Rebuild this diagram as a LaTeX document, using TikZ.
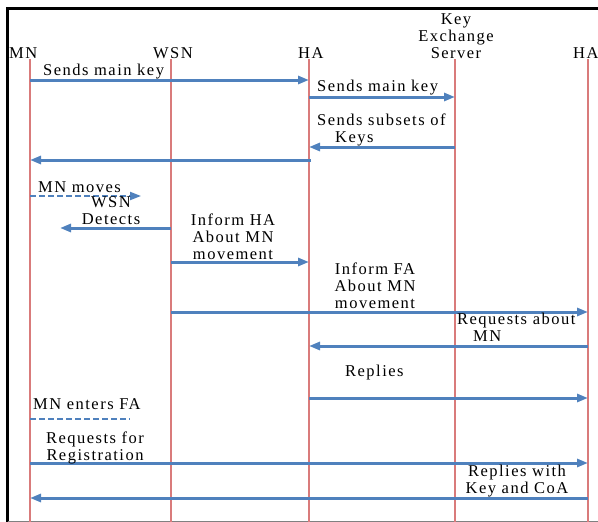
\documentclass[tikz,border=0pt]{standalone}
\usepackage{fontspec}
\setmainfont{Liberation Serif}[LetterSpace=9]
\usetikzlibrary{arrows.meta}
\definecolor{msgblue}{HTML}{4F81BD}
\definecolor{lifered}{HTML}{D97B7B}
\begin{document}
\begin{tikzpicture}[x=1pt,y=-1pt,
  lbl/.style={font=\fontsize{16.5}{17}\selectfont, inner sep=0pt, text=black},
  life/.style={draw=lifered, line width=2pt},
  msg/.style={draw=msgblue, line width=3pt, -{Triangle[length=11pt,width=8pt]}},
  moveline/.style={draw=msgblue, line width=2pt, dash pattern=on 6pt off 3pt},
]
\useasboundingbox (0,0) rectangle (598,522);

% frame
\draw[line width=3pt] (7.5,522) -- (7.5,8.5) -- (600,8.5);
\draw[gray, line width=1pt] (7.5,521) -- (600,521);

% participants (multi-line labels sit on the baseline of their last line)
\node[lbl, anchor=base west] (mnH)  at (9,58)   {MN};
\node[lbl, anchor=base west] (wsnH) at (153,58) {WSN};
\node[lbl, anchor=base west] (haH)  at (298,58) {HA};
\node[lbl, anchor=base, align=center] (kesH) at (456,58) {Key\\Exchange\\Server};
\node[lbl, anchor=base west] (faH)  at (573,58) {HA};

% lifelines
\coordinate (MN)  at (30,59);
\coordinate (WSN) at (171,59);
\coordinate (HA)  at (309,59);
\coordinate (KES) at (455,59);
\coordinate (FA)  at (588,59);
\foreach \p in {MN,WSN,HA,KES,FA}
  \draw[life] (\p) -- (\p |- 0,522);

% messages
\draw[msg] (MN |- 0,80) -- (HA |- 0,80);
\node[lbl, anchor=base west] (m1) at (43,75) {Sends main key};

\draw[msg] (HA |- 0,97) -- (KES |- 0,97);
\node[lbl, anchor=base west] (m2) at (317,91) {Sends main key};

\draw[msg] (KES |- 0,147) -- (HA |- 0,147);
\node[lbl, anchor=base west, align=left] (m3) at (317,142) {Sends subsets of\\\hspace{18pt}Keys};

\draw[msg] ([xshift=2pt]HA |- 0,160) -- (MN |- 0,160);

\coordinate (moveEnd) at (141,196);
\draw[moveline, -{Triangle[length=11pt,width=8pt]}] (MN |- 0,196) -- (moveEnd);
\node[lbl, anchor=base west] (m5) at (38,192) {MN moves};

\coordinate (detEnd) at (60,228);
\draw[msg] (WSN |- 0,228) -- (detEnd);
\node[lbl, anchor=base, align=center] (m6) at (111,224) {WSN\\Detects};

\draw[msg] (WSN |- 0,262) -- (HA |- 0,262);
\node[lbl, anchor=base, align=center] (m7) at (233,259) {Inform HA\\About MN\\movement};

\draw[msg] (WSN |- 0,312) -- (FA |- 0,312);
\node[lbl, anchor=base, align=center] (m8) at (375,308) {Inform FA\\About MN\\movement};

\draw[msg] (FA |- 0,346) -- (HA |- 0,346);
\node[lbl, anchor=base west, align=left] (m9) at (457,341) {Requests about\\\hspace{16pt}MN};

\draw[msg] (HA |- 0,398) -- (FA |- 0,398);
\node[lbl, anchor=base west] (m10) at (345,376) {Replies};

\coordinate (entEnd) at (130,419);
\draw[moveline] (MN |- 0,419) -- (entEnd);
\node[lbl, anchor=base west] (m11) at (33,409) {MN enters FA};

\draw[msg] (MN |- 0,463) -- (FA |- 0,463);
\node[lbl, anchor=base, align=center] (m12) at (95,460) {Requests for\\Registration};

\draw[msg] (FA |- 0,498) -- (MN |- 0,498);
\node[lbl, anchor=base, align=center] (m13) at (517,493) {Replies with\\Key and CoA};
\end{tikzpicture}
\end{document}
